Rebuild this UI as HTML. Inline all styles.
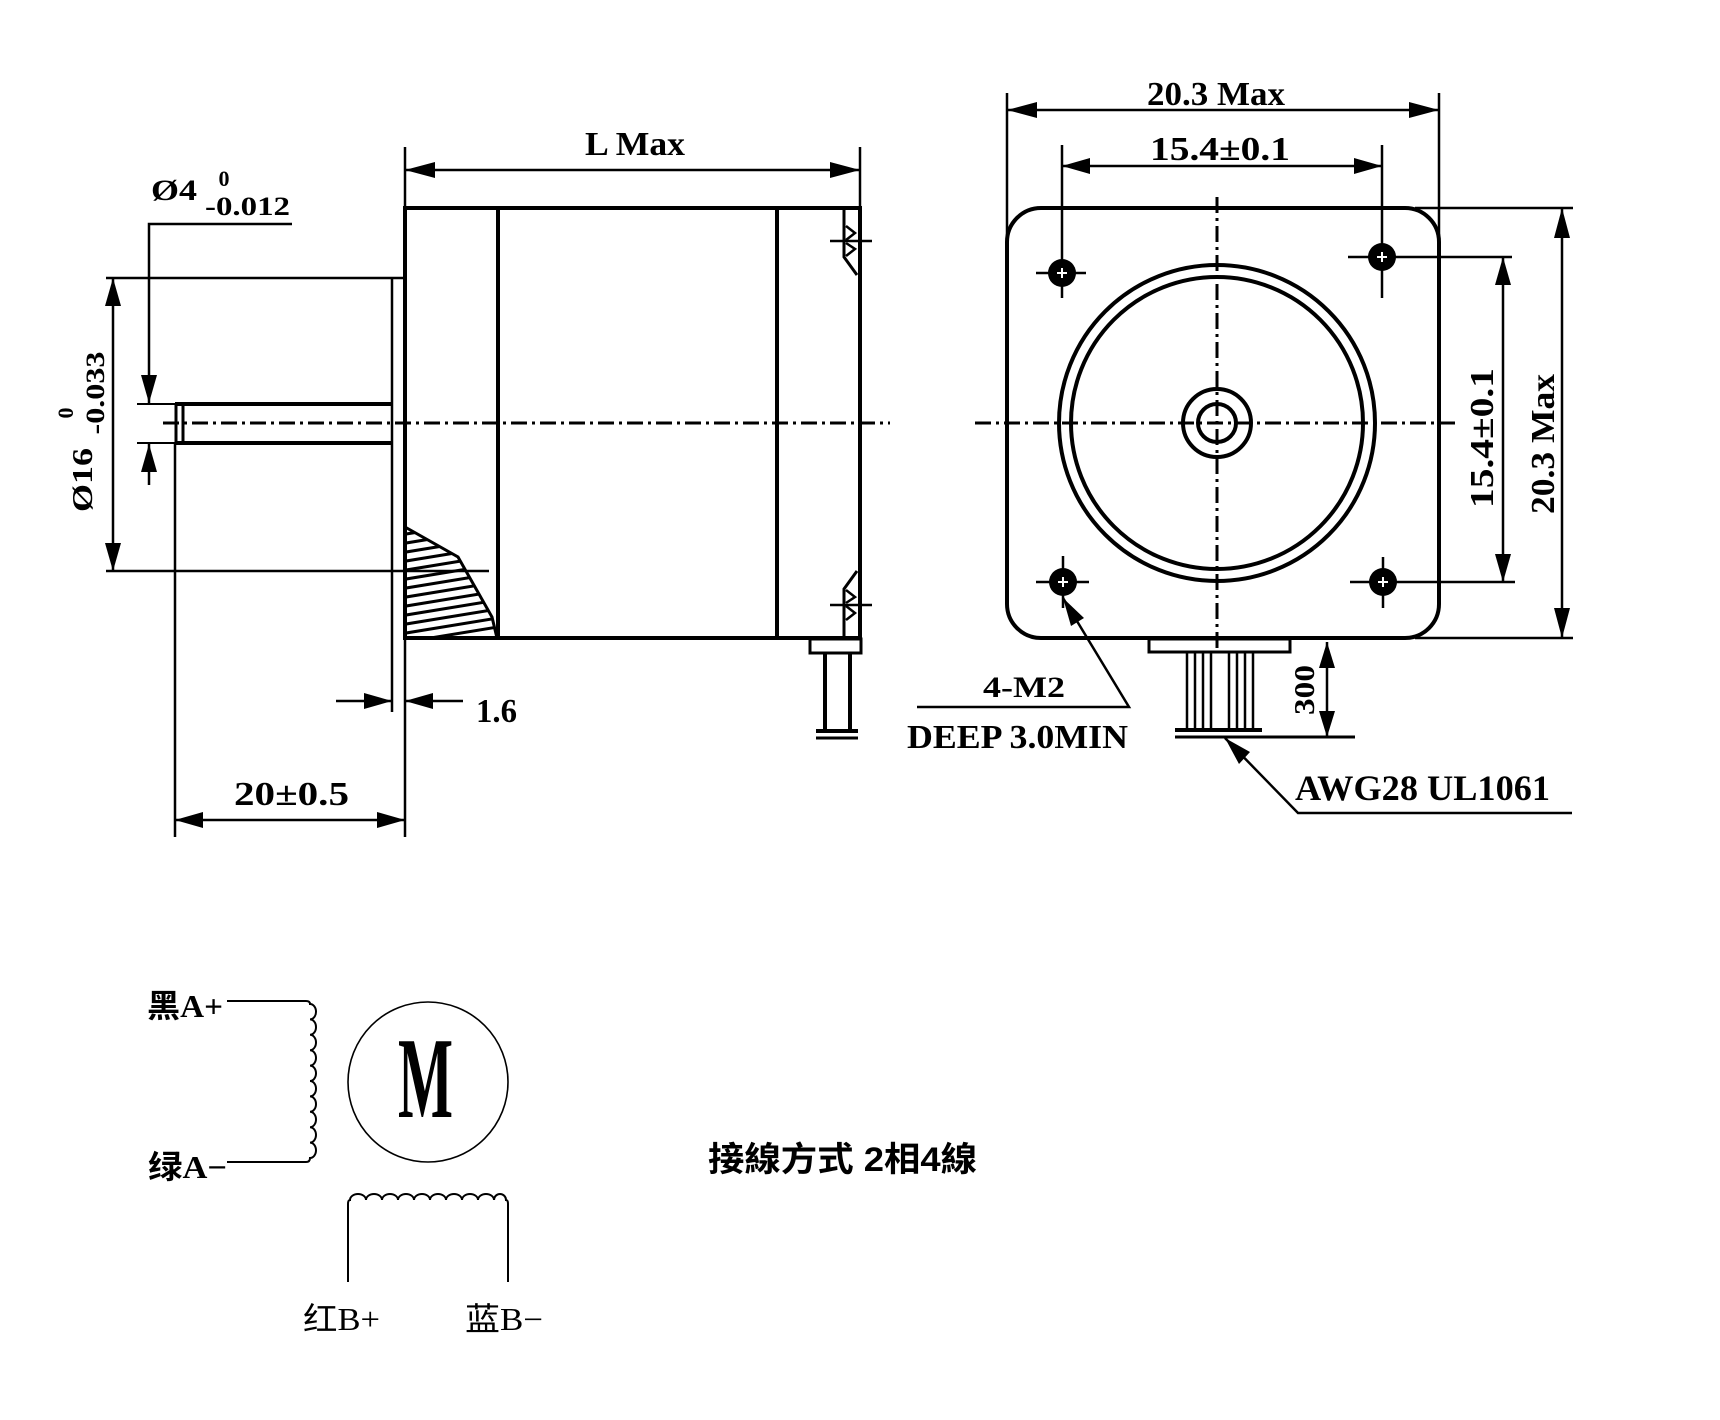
<!DOCTYPE html>
<html>
<head>
<meta charset="utf-8">
<style>
html,body{margin:0;padding:0;background:#fff;}
svg{display:block;}
.t{font-family:"Liberation Serif",serif;font-weight:bold;fill:#000;}
.c{font-family:"Liberation Serif","Noto Sans CJK SC",serif;fill:#000;}
.cj{font-family:"Liberation Sans","Noto Sans CJK TC",sans-serif;font-weight:bold;fill:#000;}
</style>
</head>
<body>
<svg width="1720" height="1420" viewBox="0 0 1720 1420" xmlns="http://www.w3.org/2000/svg">
<rect width="1720" height="1420" fill="#fff"/>
<defs>
<clipPath id="hc"><polygon points="405,527 458,557 492,617 497,638 405,638"/></clipPath>
</defs>

<!-- ============ SIDE VIEW ============ -->
<g stroke="#000" fill="none" stroke-linecap="butt">
  <line x1="163" y1="423" x2="890" y2="423" stroke-width="3" stroke-dasharray="16 5 3 5"/>
  <line x1="403" y1="208" x2="862" y2="208" stroke-width="4"/>
  <line x1="403" y1="638" x2="862" y2="638" stroke-width="4"/>
  <line x1="405" y1="206" x2="405" y2="640" stroke-width="4"/>
  <line x1="405" y1="147" x2="405" y2="208" stroke-width="2.5"/>
  <line x1="405" y1="638" x2="405" y2="837" stroke-width="2.5"/>
  <line x1="860" y1="206" x2="860" y2="640" stroke-width="4"/>
  <line x1="860" y1="147" x2="860" y2="208" stroke-width="2.5"/>
  <line x1="498" y1="208" x2="498" y2="638" stroke-width="4"/>
  <line x1="777" y1="208" x2="777" y2="638" stroke-width="4"/>
  <line x1="392" y1="278" x2="392" y2="712" stroke-width="2.5"/>
  <line x1="106" y1="278" x2="405" y2="278" stroke-width="2.5"/>
  <line x1="106" y1="571" x2="489" y2="571" stroke-width="2.5"/>
  <line x1="175" y1="404" x2="392" y2="404" stroke-width="4"/>
  <line x1="175" y1="443" x2="392" y2="443" stroke-width="4"/>
  <line x1="176" y1="404" x2="176" y2="443" stroke-width="3"/>
  <line x1="183" y1="404" x2="183" y2="443" stroke-width="3"/>
  <line x1="137" y1="404" x2="175" y2="404" stroke-width="2"/>
  <line x1="137" y1="443" x2="175" y2="443" stroke-width="2"/>
  <line x1="175" y1="443" x2="175" y2="837" stroke-width="2.5"/>
  <polyline points="292,224 149,224 149,403" stroke-width="2.5"/>
  <line x1="149" y1="444" x2="149" y2="485" stroke-width="2.5"/>
  <line x1="113" y1="278" x2="113" y2="571" stroke-width="2.5"/>
  <line x1="405" y1="170" x2="860" y2="170" stroke-width="2.5"/>
  <line x1="336" y1="701" x2="392" y2="701" stroke-width="2.5"/>
  <line x1="405" y1="701" x2="463" y2="701" stroke-width="2.5"/>
  <line x1="175" y1="820" x2="405" y2="820" stroke-width="2.5"/>
  <polyline points="405,527 458,557 492,617 497,638" stroke-width="3"/>
  <g clip-path="url(#hc)" stroke-width="3">
    <line x1="400" y1="535" x2="510" y2="517"/>
    <line x1="400" y1="544" x2="510" y2="526"/>
    <line x1="400" y1="553" x2="510" y2="535"/>
    <line x1="400" y1="562" x2="510" y2="544"/>
    <line x1="400" y1="571" x2="510" y2="553"/>
    <line x1="400" y1="580" x2="510" y2="562"/>
    <line x1="400" y1="589" x2="510" y2="571"/>
    <line x1="400" y1="598" x2="510" y2="580"/>
    <line x1="400" y1="607" x2="510" y2="589"/>
    <line x1="400" y1="616" x2="510" y2="598"/>
    <line x1="400" y1="625" x2="510" y2="607"/>
    <line x1="400" y1="634" x2="510" y2="616"/>
    <line x1="400" y1="643" x2="510" y2="625"/>
  </g>
  <polyline points="844,210 844,257 857,275" stroke-width="3"/>
  <polyline points="846,226 855,233 846,240" stroke-width="2.5"/>
  <polyline points="846,243 855,249 846,256" stroke-width="2.5"/>
  <line x1="830" y1="241" x2="872" y2="241" stroke-width="2.5"/>
  <polyline points="844,636 844,589 857,571" stroke-width="3"/>
  <polyline points="846,620 855,613 846,606" stroke-width="2.5"/>
  <polyline points="846,603 855,597 846,590" stroke-width="2.5"/>
  <line x1="830" y1="605" x2="872" y2="605" stroke-width="2.5"/>
  <rect x="810" y="639" width="51" height="14" stroke-width="3"/>
  <line x1="825" y1="653" x2="825" y2="730" stroke-width="4"/>
  <line x1="850" y1="653" x2="850" y2="730" stroke-width="4"/>
  <line x1="816" y1="731" x2="858" y2="731" stroke-width="4"/>
  <line x1="816" y1="738" x2="858" y2="738" stroke-width="3"/>
</g>
<g fill="#000">
  <polygon points="405,170 435,162 435,178"/>
  <polygon points="860,170 830,162 830,178"/>
  <polygon points="149,403 141,375 157,375"/>
  <polygon points="149,444 141,472 157,472"/>
  <polygon points="113,278 105,306 121,306"/>
  <polygon points="113,571 105,543 121,543"/>
  <polygon points="392,701 364,693 364,709"/>
  <polygon points="405,701 433,693 433,709"/>
  <polygon points="175,820 203,812 203,828"/>
  <polygon points="405,820 377,812 377,828"/>
</g>
<text class="t" x="635" y="155" font-size="34" text-anchor="middle" textLength="100" lengthAdjust="spacingAndGlyphs">L Max</text>
<text class="t" x="151" y="200" font-size="30" textLength="46" lengthAdjust="spacingAndGlyphs">Ø4</text>
<text class="t" x="224" y="186" font-size="22" text-anchor="middle">0</text>
<text class="t" x="205" y="215" font-size="26" textLength="85" lengthAdjust="spacingAndGlyphs">-0.012</text>
<text class="t" transform="translate(92,480) rotate(-90)" font-size="29" text-anchor="middle" textLength="64" lengthAdjust="spacingAndGlyphs">Ø16</text>
<text class="t" transform="translate(73,413) rotate(-90)" font-size="22" text-anchor="middle">0</text>
<text class="t" transform="translate(104,393) rotate(-90)" font-size="26" text-anchor="middle" textLength="83" lengthAdjust="spacingAndGlyphs">-0.033</text>
<text class="t" x="476" y="722" font-size="34" textLength="41" lengthAdjust="spacingAndGlyphs">1.6</text>
<text class="t" x="234" y="805" font-size="34" textLength="115" lengthAdjust="spacingAndGlyphs">20±0.5</text>

<!-- ============ FRONT VIEW ============ -->
<g stroke="#000" fill="none">
  <rect x="1007" y="208" width="432" height="430" rx="34" ry="34" stroke-width="4"/>
  <line x1="975" y1="423" x2="1460" y2="423" stroke-width="3" stroke-dasharray="16 5 3 5"/>
  <line x1="1217" y1="197" x2="1217" y2="652" stroke-width="3" stroke-dasharray="16 5 3 5"/>
  <circle cx="1217" cy="423" r="158" stroke-width="4"/>
  <circle cx="1217" cy="423" r="146" stroke-width="4"/>
  <circle cx="1217" cy="423" r="34" stroke-width="4"/>
  <circle cx="1217" cy="423" r="19" stroke-width="4"/>
  <line x1="1007" y1="93" x2="1007" y2="240" stroke-width="2.5"/>
  <line x1="1439" y1="93" x2="1439" y2="240" stroke-width="2.5"/>
  <line x1="1007" y1="110" x2="1439" y2="110" stroke-width="2.5"/>
  <line x1="1062" y1="145" x2="1062" y2="298" stroke-width="2.5"/>
  <line x1="1382" y1="145" x2="1382" y2="298" stroke-width="2.5"/>
  <line x1="1062" y1="166" x2="1382" y2="166" stroke-width="2.5"/>
  <line x1="1036" y1="273" x2="1086" y2="273" stroke-width="2.5"/>
  <line x1="1348" y1="257" x2="1512" y2="257" stroke-width="2.5"/>
  <line x1="1036" y1="582" x2="1089" y2="582" stroke-width="2.5"/>
  <line x1="1063" y1="556" x2="1063" y2="608" stroke-width="2.5"/>
  <line x1="1350" y1="582" x2="1515" y2="582" stroke-width="2.5"/>
  <line x1="1383" y1="557" x2="1383" y2="608" stroke-width="2.5"/>
  <line x1="1415" y1="208" x2="1573" y2="208" stroke-width="2.5"/>
  <line x1="1415" y1="638" x2="1573" y2="638" stroke-width="2.5"/>
  <line x1="1503" y1="257" x2="1503" y2="582" stroke-width="2.5"/>
  <line x1="1562" y1="208" x2="1562" y2="638" stroke-width="2.5"/>
  <rect x="1149" y="639" width="141" height="13" stroke-width="3"/>
  <g stroke-width="2.5">
    <line x1="1187" y1="653" x2="1187" y2="729"/>
    <line x1="1195" y1="653" x2="1195" y2="729"/>
    <line x1="1203" y1="653" x2="1203" y2="729"/>
    <line x1="1211" y1="653" x2="1211" y2="729"/>
    <line x1="1229" y1="653" x2="1229" y2="729"/>
    <line x1="1237" y1="653" x2="1237" y2="729"/>
    <line x1="1245" y1="653" x2="1245" y2="729"/>
    <line x1="1253" y1="653" x2="1253" y2="729"/>
  </g>
  <line x1="1175" y1="730" x2="1262" y2="730" stroke-width="4"/>
  <line x1="1175" y1="737" x2="1355" y2="737" stroke-width="3"/>
  <line x1="1327" y1="642" x2="1327" y2="737" stroke-width="2.5"/>
  <polyline points="1063,598 1129,707 917,707" stroke-width="2.5"/>
  <polyline points="1225,738 1298,813 1572,813" stroke-width="2.5"/>
</g>
<g fill="#000">
  <circle cx="1062" cy="273" r="14"/>
  <circle cx="1382" cy="257" r="14"/>
  <circle cx="1063" cy="582" r="14"/>
  <circle cx="1383" cy="582" r="14"/>
</g>
<g stroke="#fff" stroke-width="2" fill="none">
  <path d="M1057 273h10M1062 268v10"/>
  <path d="M1377 257h10M1382 252v10"/>
  <path d="M1058 582h10M1063 577v10"/>
  <path d="M1378 582h10M1383 577v10"/>
</g>
<g fill="#000">
  <polygon points="1007,110 1037,102 1037,118"/>
  <polygon points="1439,110 1409,102 1409,118"/>
  <polygon points="1062,166 1090,158 1090,174"/>
  <polygon points="1382,166 1354,158 1354,174"/>
  <polygon points="1503,257 1495,285 1511,285"/>
  <polygon points="1503,582 1495,554 1511,554"/>
  <polygon points="1562,208 1554,238 1570,238"/>
  <polygon points="1562,638 1554,608 1570,608"/>
  <polygon points="1327,642 1319,668 1335,668"/>
  <polygon points="1327,737 1319,711 1335,711"/>
  <polygon points="1225,738 1250,752 1239,764"/>
  <polygon points="1063,598 1084,618 1071,626"/>
</g>
<text class="t" x="1216" y="105" font-size="34" text-anchor="middle" textLength="138" lengthAdjust="spacingAndGlyphs">20.3 Max</text>
<text class="t" x="1220" y="160" font-size="34" text-anchor="middle" textLength="140" lengthAdjust="spacingAndGlyphs">15.4±0.1</text>
<text class="t" transform="translate(1493,438) rotate(-90)" font-size="34" text-anchor="middle" textLength="140" lengthAdjust="spacingAndGlyphs">15.4±0.1</text>
<text class="t" transform="translate(1554,444) rotate(-90)" font-size="34" text-anchor="middle" textLength="140" lengthAdjust="spacingAndGlyphs">20.3 Max</text>
<text class="t" transform="translate(1314,690) rotate(-90)" font-size="28" text-anchor="middle" textLength="50" lengthAdjust="spacingAndGlyphs">300</text>
<text class="t" x="983" y="697" font-size="30" textLength="82" lengthAdjust="spacingAndGlyphs">4-M2</text>
<text class="t" x="907" y="748" font-size="34" textLength="221" lengthAdjust="spacingAndGlyphs">DEEP 3.0MIN</text>
<text class="t" x="1295" y="800" font-size="36" textLength="255" lengthAdjust="spacingAndGlyphs">AWG28 UL1061</text>

<!-- ============ WIRING SCHEMATIC ============ -->
<g stroke="#000" fill="none" stroke-width="2">
  <path d="M227 1001 H306 Q310 1001 310 1004
    a6 7.7 0 0 1 0 15.4 a6 7.7 0 0 1 0 15.4 a6 7.7 0 0 1 0 15.4 a6 7.7 0 0 1 0 15.4 a6 7.7 0 0 1 0 15.4
    a6 7.7 0 0 1 0 15.4 a6 7.7 0 0 1 0 15.4 a6 7.7 0 0 1 0 15.4 a6 7.7 0 0 1 0 15.4 a6 7.7 0 0 1 0 15.4
    Q310 1162 306 1162 H227"/>
  <circle cx="428" cy="1082" r="80" stroke-width="1.6"/>
  <path d="M348 1282 V1204 Q348 1200 350 1200
    a8 6 0 0 1 16 0 a8 6 0 0 1 16 0 a8 6 0 0 1 16 0 a8 6 0 0 1 16 0 a8 6 0 0 1 16 0
    a8 6 0 0 1 16 0 a8 6 0 0 1 16 0 a8 6 0 0 1 16 0 a8 6 0 0 1 16 0 a6 6 0 0 1 12 0
    Q508 1200 508 1204 V1282"/>
</g>
<text class="c" x="398" y="1117" font-size="116" font-weight="bold" textLength="55" lengthAdjust="spacingAndGlyphs">M</text>
<text class="c" x="147" y="1017" font-size="32" font-weight="bold" textLength="76" lengthAdjust="spacingAndGlyphs">黑A+</text>
<text class="c" x="148" y="1178" font-size="32" font-weight="bold" textLength="79" lengthAdjust="spacingAndGlyphs">绿A−</text>
<text class="c" x="303" y="1330" font-size="32" textLength="77" lengthAdjust="spacingAndGlyphs">红B+</text>
<text class="c" x="465" y="1330" font-size="32" textLength="78" lengthAdjust="spacingAndGlyphs">蓝B−</text>
<text class="cj" x="708" y="1171" font-size="34" textLength="269" lengthAdjust="spacingAndGlyphs">接線方式 2相4線</text>
</svg>
</body>
</html>
